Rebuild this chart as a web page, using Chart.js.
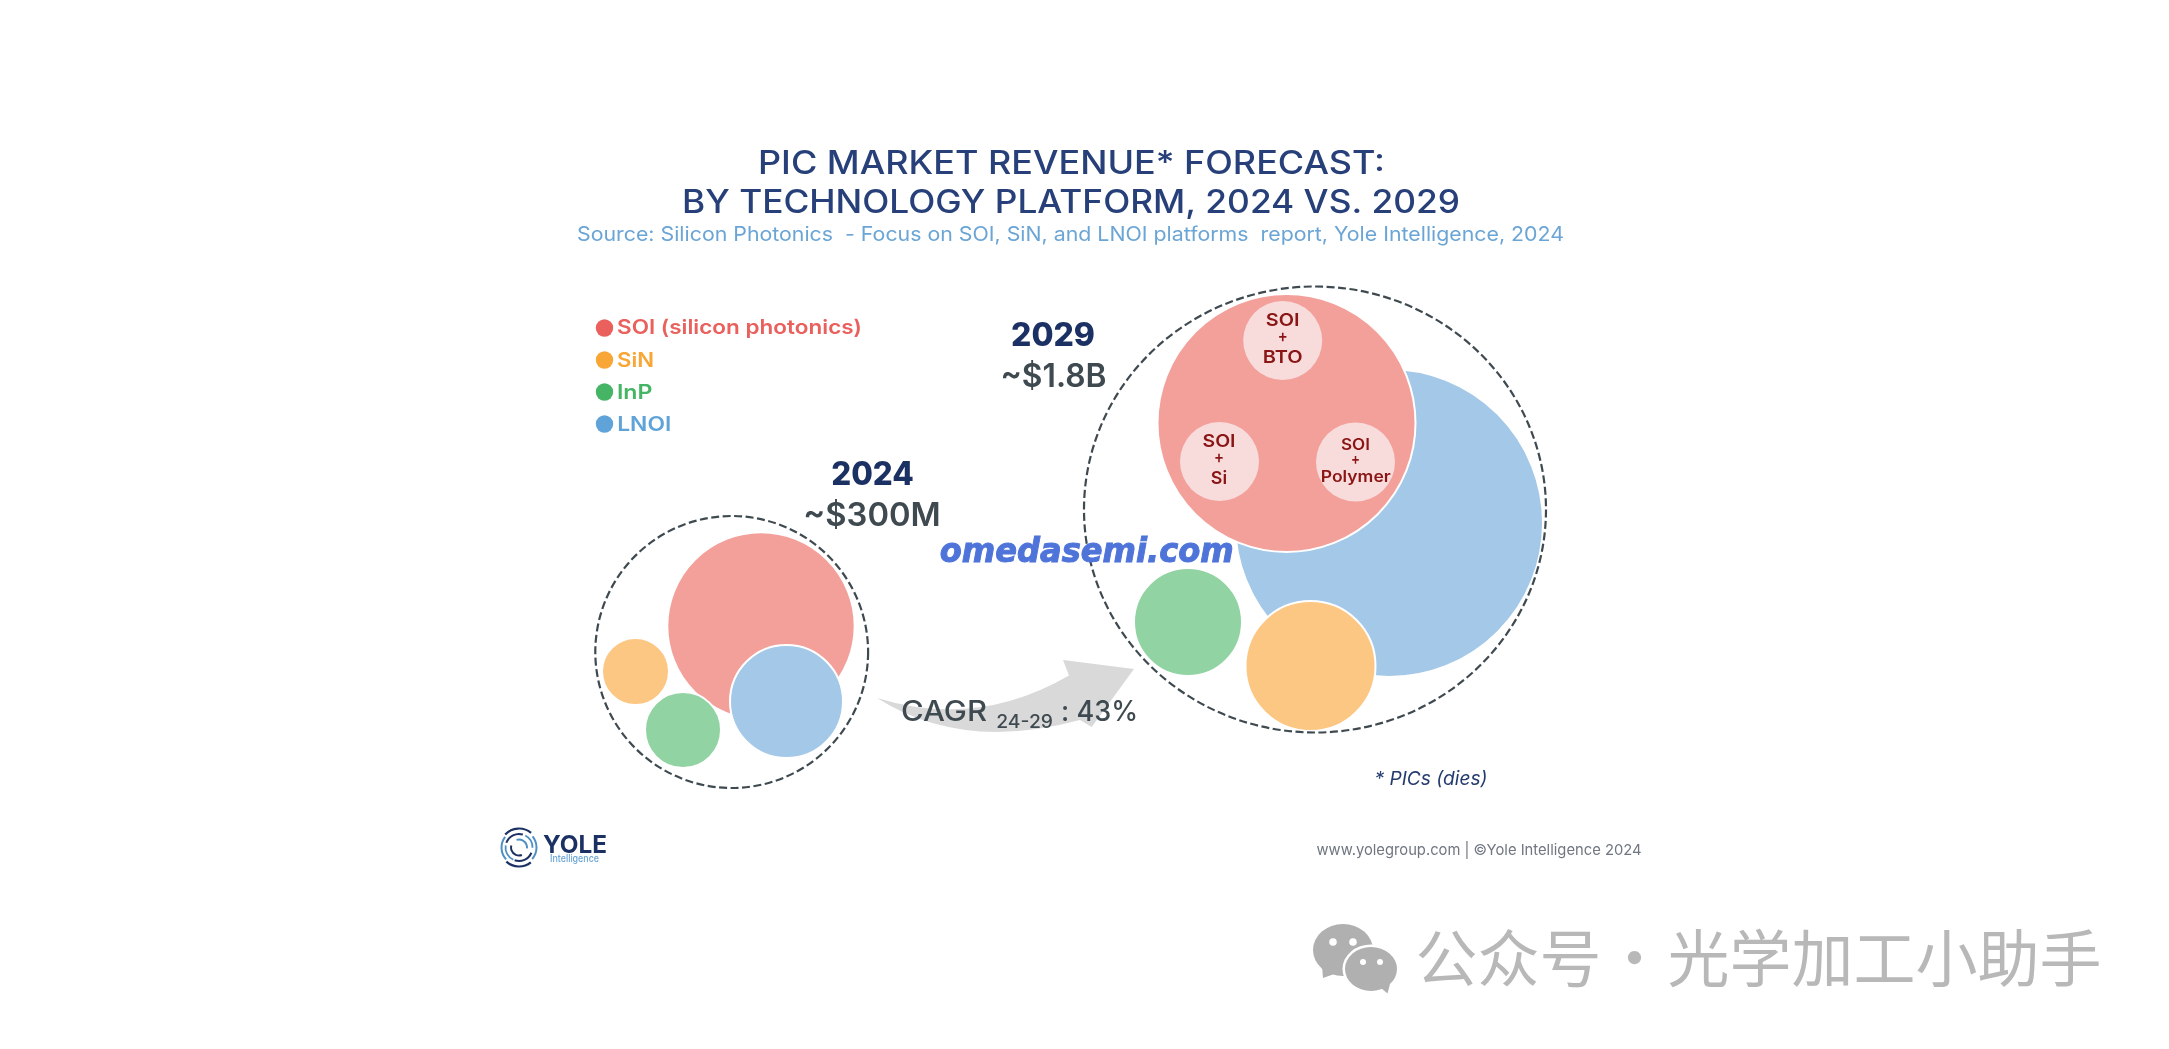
<!DOCTYPE html>
<html>
<head>
<meta charset="utf-8">
<title>PIC market revenue forecast</title>
<script src="https://cdn.jsdelivr.net/npm/chart.js@4/dist/chart.umd.min.js"></script>
<style>
  html, body { margin: 0; padding: 0; background: #fff; overflow: hidden; }
  canvas { display: block; }
</style>
</head>
<body>
<canvas id="bubbles" width="2169" height="1049"></canvas>
<script>
// Technologies in legend order
const technologies = ['SOI (silicon photonics)', 'SiN', 'InP', 'LNOI'];

// 2024 bubbles (SOI, SiN, InP, LNOI)
const names2024 = ['SOI', 'SiN', 'InP', 'LNOI'];
const x2024 = [761, 635.5, 683, 786.5];
const y2024 = [626, 671.5, 730, 701.5];
const r2024 = [93.7, 33.5, 38, 56.5];

// 2029 bubbles, LNOI first because it sits under the others
const names2029 = ['LNOI', 'SOI', 'InP', 'SiN'];
const x2029 = [1389, 1286.5, 1188, 1310.5];
const y2029 = [523, 423, 622, 666];
const r2029 = [154, 129, 54, 65];

// The three SOI sub platforms inside the 2029 bubble
const subNames = ['SOI + BTO', 'SOI + Si', 'SOI + Polymer'];
const subX = [1282.7, 1219.5, 1355.5];
const subY = [340.5, 461.5, 462];
const subR = [39.5, 39.5, 39.5];

const fills = { SOI: '#F3A09B', SiN: '#FCC783', InP: '#92D3A3', LNOI: '#A4C8E7' };
const strong = ['#E9605C', '#F8A635', '#45B565', '#5FA3D9'];

const navy = '#1C3163';
const titleBlue = '#27407A';
const slate = '#3F4A50';
const dimRed = '#8A1515';
const mainFont = 'Inter, "Open Sans", sans-serif';

const bubbleBorder = 2;
// The bubble controller insets the chart area by its largest bubble, so the
// axes span just that area and one data unit stays one pixel
const inset = Math.max(...r2029) + bubbleBorder;

// Text: s, cx = centre x, y = baseline, w = width to fit, size, weight, color
const labels = [
  { s: 'PIC MARKET REVENUE* FORECAST:', cx: 1071.5, y: 174, w: 627, size: 32, weight: 500, color: titleBlue },
  { s: 'BY TECHNOLOGY PLATFORM, 2024 VS. 2029', cx: 1071, y: 213, w: 778, size: 32, weight: 500, color: titleBlue },
  { s: 'Source: Silicon Photonics  - Focus on SOI, SiN, and LNOI platforms  report, Yole Intelligence, 2024', cx: 1070.5, y: 241, w: 987, size: 20, weight: 400, color: '#6BA5D5' },

  { s: technologies[0], cx: 739.5, y: 334, w: 245, size: 20, weight: 600, color: strong[0] },
  { s: technologies[1], cx: 635.5, y: 366.5, w: 37, size: 20, weight: 600, color: strong[1] },
  { s: technologies[2], cx: 634.7, y: 399, w: 35.5, size: 20, weight: 600, color: strong[2] },
  { s: technologies[3], cx: 644.2, y: 431, w: 54, size: 20, weight: 600, color: strong[3] },

  { s: '2029', cx: 1053, y: 346, w: 84, size: 32, weight: 800, color: navy },
  { s: '~$1.8B', cx: 1053.5, y: 386.5, w: 106, size: 32, weight: 600, color: slate },
  { s: '2024', cx: 872.5, y: 485, w: 82.6, size: 32, weight: 800, color: navy },
  { s: '~$300M', cx: 872, y: 526, w: 137.5, size: 32, weight: 600, color: slate },

  { s: 'SOI', cx: 1282.7, y: 325.7, w: 33.7, size: 17.5, weight: 600, color: dimRed },
  { s: '+', cx: 1282.7, y: 342, w: 10, size: 17.5, weight: 600, color: dimRed },
  { s: 'BTO', cx: 1282.7, y: 363.3, w: 40, size: 17.5, weight: 600, color: dimRed },
  { s: 'SOI', cx: 1219, y: 446.7, w: 33, size: 17.5, weight: 600, color: dimRed },
  { s: '+', cx: 1219, y: 463, w: 10, size: 17.5, weight: 600, color: dimRed },
  { s: 'Si', cx: 1219, y: 484.3, w: 16.3, size: 17.5, weight: 600, color: dimRed },
  { s: 'SOI', cx: 1355.5, y: 450, w: 29, size: 15.5, weight: 600, color: dimRed },
  { s: '+', cx: 1355.5, y: 464, w: 9, size: 15.5, weight: 600, color: dimRed },
  { s: 'Polymer', cx: 1355.7, y: 482, w: 70, size: 15.5, weight: 600, color: dimRed },

  { s: 'CAGR', cx: 944, y: 721, w: 86, size: 28, weight: 500, color: slate },
  { s: '24-29', cx: 1024.6, y: 727.5, w: 56.7, size: 18, weight: 500, color: slate },
  { s: ': 43%', cx: 1099.5, y: 721, w: 77, size: 28, weight: 500, color: slate },

  { s: 'omedasemi.com', cx: 1086.7, y: 561.5, w: 294, size: 33, weight: 800, style: 'italic', color: '#4F74D9', family: '"DejaVu Sans", sans-serif', stroke: 1 },

  { s: '* PICs (dies)', cx: 1431, y: 785, w: 113, size: 19, weight: 400, style: 'italic', color: '#233B6E' },
  { s: 'www.yolegroup.com | \u00A9Yole Intelligence 2024', cx: 1479, y: 855, w: 325, size: 15, weight: 400, color: '#6F7680' },
  { s: 'YOLE', cx: 575, y: 853, w: 64, size: 24.5, weight: 700, color: navy },
  { s: 'Intelligence', cx: 574.5, y: 861.5, w: 49, size: 10, weight: 500, color: '#6BA5D5' },

  // Only the spaces around the dot give way here, the glyphs keep their width
  { s: '\u516C\u4F17\u53F7 \u00B7 \u5149\u5B66\u52A0\u5DE5\u5C0F\u52A9\u624B', cx: 1758.5, y: 982, w: 686, size: 62, weight: 400, color: '#B8B8B8', family: '"Noto Sans CJK SC", sans-serif', fitSpaces: 2 }
];

function drawLabel(ctx, t) {
  ctx.save();
  ctx.font = `${t.style || 'normal'} ${t.weight} ${t.size}px ${t.family || mainFont}`;
  const natural = ctx.measureText(t.s).width;
  let sx = t.w / natural;
  if (t.fitSpaces) {
    ctx.wordSpacing = ((t.w - natural) / t.fitSpaces) + 'px';
    sx = 1;
  }
  ctx.translate(t.cx, t.y);
  ctx.scale(sx, 1);
  ctx.textAlign = 'center';
  ctx.textBaseline = 'alphabetic';
  ctx.fillStyle = t.color;
  ctx.fillText(t.s, 0, 0);
  if (t.stroke) {
    ctx.strokeStyle = t.color;
    ctx.lineWidth = t.stroke;
    ctx.strokeText(t.s, 0, 0);
  }
  ctx.restore();
}

function drawRing(ctx, sc, cx, cy, rx, ry) {
  ctx.save();
  ctx.setLineDash([8, 3.5]);
  ctx.lineWidth = 2.2;
  ctx.strokeStyle = slate;
  ctx.beginPath();
  ctx.ellipse(sc.x.getPixelForValue(cx), sc.y.getPixelForValue(cy), rx, ry, 0, 0, Math.PI * 2);
  ctx.stroke();
  ctx.restore();
}

function drawArrow(ctx) {
  ctx.save();
  ctx.fillStyle = '#D9D9D9';
  ctx.beginPath();
  ctx.moveTo(877, 698);
  ctx.quadraticCurveTo(977, 729, 1069, 675.5);
  ctx.lineTo(1063, 660);
  ctx.lineTo(1134, 669);
  ctx.lineTo(1091.7, 727);
  ctx.lineTo(1080, 720);
  ctx.quadraticCurveTo(962, 752, 877, 698);
  ctx.closePath();
  ctx.fill();
  ctx.restore();
}

function drawLegendDots(ctx) {
  const ys = [328, 360, 392, 424];
  ys.forEach((y, i) => {
    ctx.fillStyle = strong[i];
    ctx.beginPath();
    ctx.arc(604.5, y, 8.7, 0, Math.PI * 2);
    ctx.fill();
  });
}

function drawLogo(ctx) {
  const sky = '#4F8FC4';
  const arcs = [
    [19, 3.9, 5.4, navy, 2.2], [19, 0.9, 2.3, navy, 2.2],
    [17.5, 2.4, 3.8, sky, 2], [17.5, 5.6, 7.0, sky, 2],
    [13.5, 3.5, 5.0, navy, 2], [13.5, 0.4, 1.9, navy, 2],
    [13.5, 2.0, 3.3, sky, 1.8], [13.5, 5.2, 6.3, sky, 1.8],
    [8, 4.4, 6.4, sky, 2], [8, 1.2, 3.4, navy, 2]
  ];
  ctx.save();
  arcs.forEach(a => {
    ctx.beginPath();
    ctx.arc(519, 847.5, a[0], a[1], a[2]);
    ctx.strokeStyle = a[3];
    ctx.lineWidth = a[4];
    ctx.stroke();
  });
  ctx.restore();
}

function drawWechat(ctx) {
  const grey = '#B0B0B0';
  ctx.save();
  ctx.fillStyle = grey;
  ctx.beginPath();
  ctx.ellipse(1343, 950, 30, 26, 0, 0, Math.PI * 2);
  ctx.fill();
  ctx.beginPath();
  ctx.moveTo(1322, 966);
  ctx.lineTo(1323, 978);
  ctx.lineTo(1337, 973);
  ctx.fill();
  ctx.beginPath();
  ctx.ellipse(1371, 969, 28.5, 24.5, 0, 0, Math.PI * 2);
  ctx.fillStyle = '#fff';
  ctx.fill();
  ctx.beginPath();
  ctx.ellipse(1371, 969, 26, 22, 0, 0, Math.PI * 2);
  ctx.fillStyle = grey;
  ctx.fill();
  ctx.beginPath();
  ctx.moveTo(1381, 988);
  ctx.lineTo(1387.5, 993.5);
  ctx.lineTo(1390, 984);
  ctx.fill();
  ctx.fillStyle = '#fff';
  [[1333, 942, 3.8], [1353, 942, 3.8], [1363, 962, 3], [1380, 962, 3]].forEach(e => {
    ctx.beginPath();
    ctx.arc(e[0], e[1], e[2], 0, Math.PI * 2);
    ctx.fill();
  });
  ctx.restore();
}

const decorations = {
  id: 'decorations',
  beforeDatasetsDraw(chart) {
    drawArrow(chart.ctx);
  },
  afterDatasetsDraw(chart) {
    const ctx = chart.ctx;
    drawRing(ctx, chart.scales, 731.7, 652, 136.4, 136);
    drawRing(ctx, chart.scales, 1315, 509.5, 231, 223);
    drawLegendDots(ctx);
    drawLogo(ctx);
    drawWechat(ctx);
    labels.forEach(t => drawLabel(ctx, t));
  }
};

function toPoints(xs, ys, rs) {
  return xs.map((x, i) => ({ x: x, y: ys[i], r: rs[i] }));
}

new Chart(document.getElementById('bubbles'), {
  type: 'bubble',
  data: {
    // Chart.js paints the first dataset last, so the sub circles come first
    datasets: [
      {
        label: 'SOI sub platforms',
        data: toPoints(subX, subY, subR),
        backgroundColor: '#F8DCDC',
        borderWidth: 0
      },
      {
        label: '2029',
        data: toPoints(x2029, y2029, r2029),
        backgroundColor: names2029.map(n => fills[n]),
        borderColor: '#fff',
        borderWidth: bubbleBorder
      },
      {
        label: '2024',
        data: toPoints(x2024, y2024, r2024),
        backgroundColor: names2024.map(n => fills[n]),
        borderColor: '#fff',
        borderWidth: bubbleBorder
      }
    ]
  },
  options: {
    responsive: false,
    animation: false,
    layout: { padding: 0 },
    plugins: {
      legend: { display: false },
      tooltip: { enabled: false }
    },
    scales: {
      x: { type: 'linear', min: inset, max: 2169 - inset, display: false },
      y: { type: 'linear', min: inset, max: 1049 - inset, reverse: true, display: false }
    }
  },
  plugins: [decorations]
});
</script>
</body>
</html>
